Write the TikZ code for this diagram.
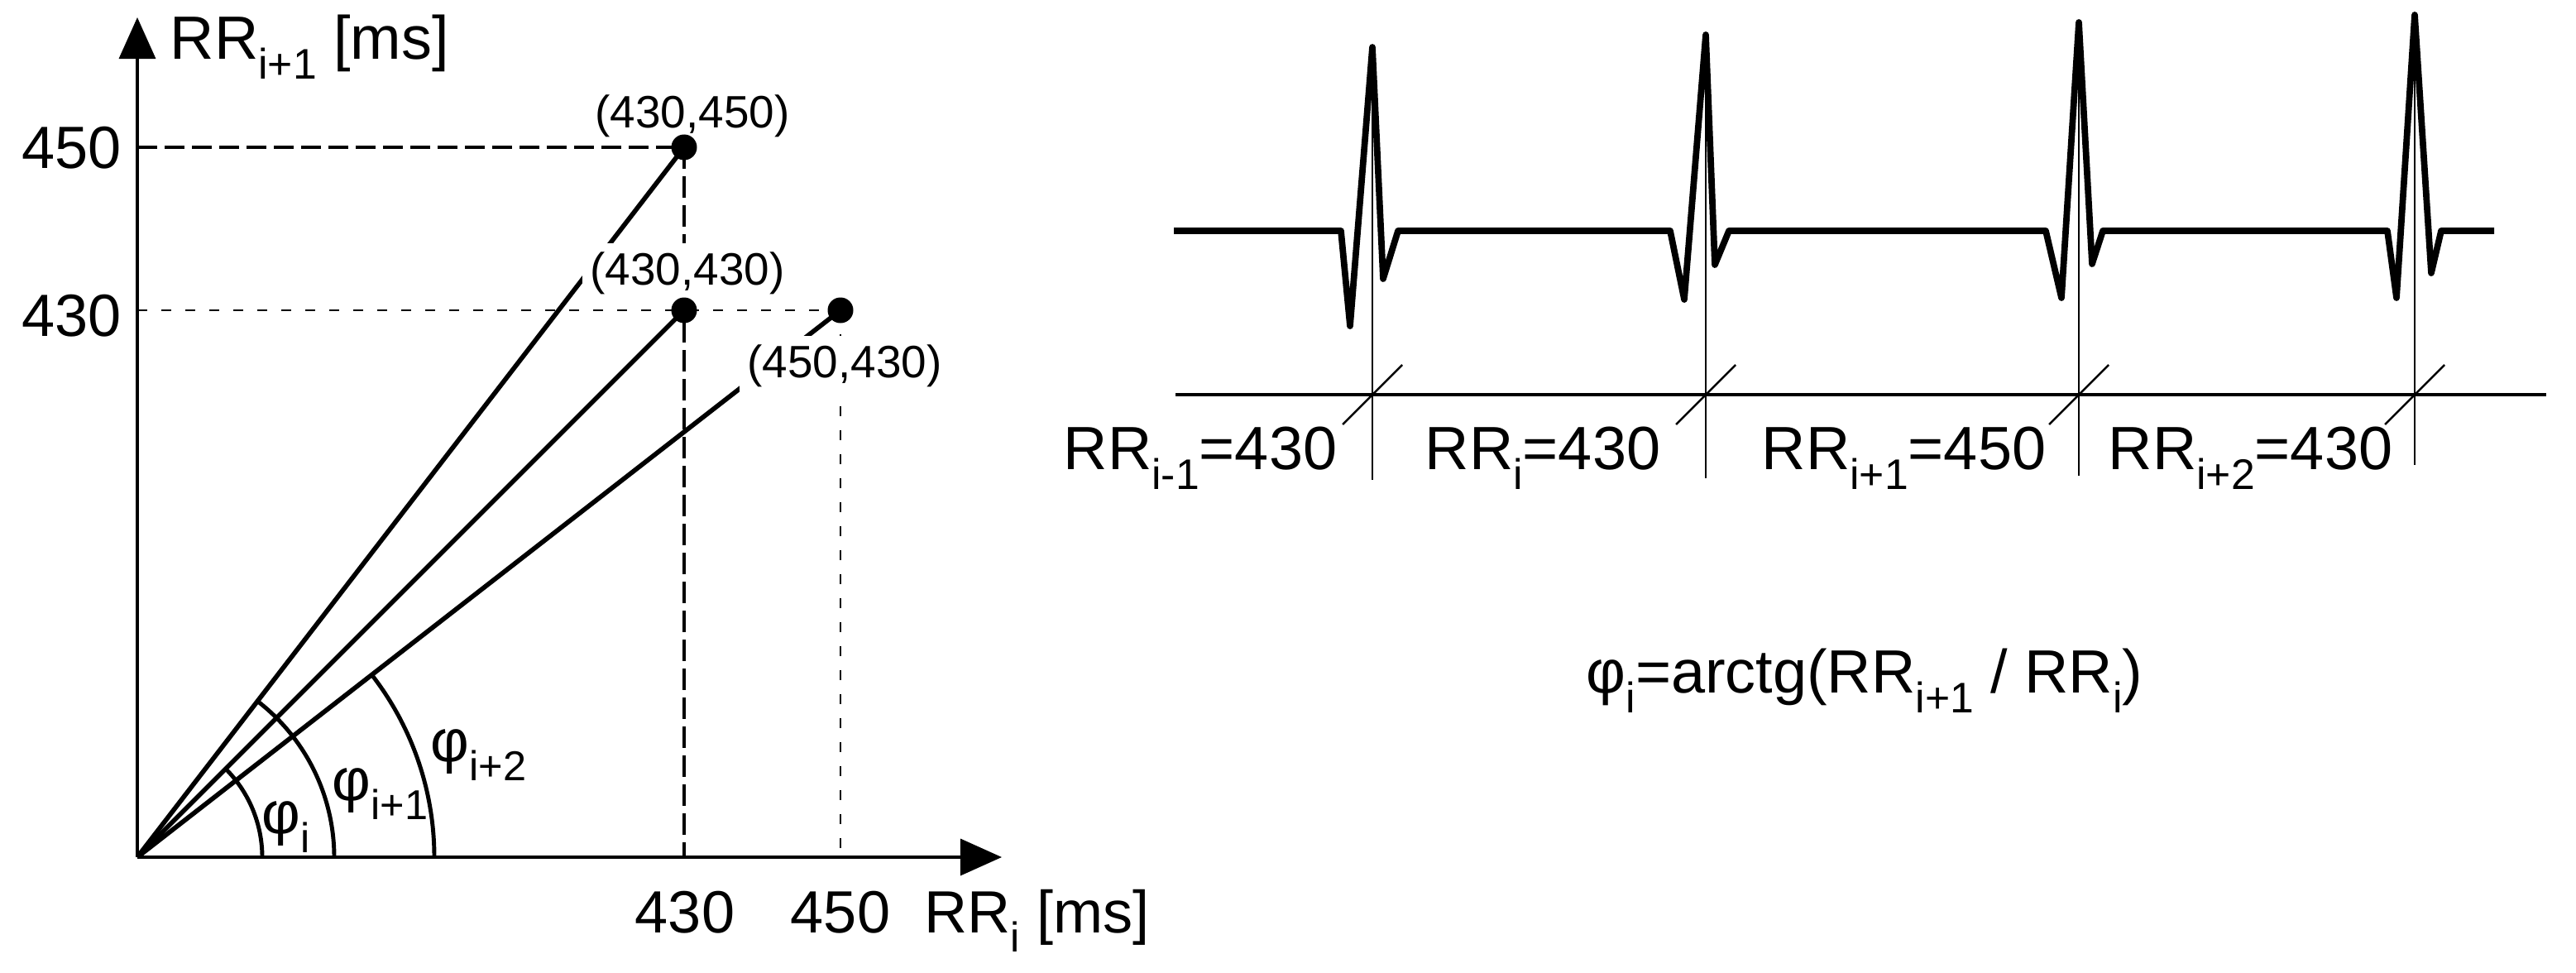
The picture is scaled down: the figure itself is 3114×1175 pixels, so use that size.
\documentclass[tikz,border=0pt]{standalone}
\usepackage{fontspec}
\setmainfont{Liberation Sans}
\usepackage{graphicx}
\usetikzlibrary{arrows.meta}
\newcommand{\sbx}[1]{\raisebox{-0.33em}{\scalebox{0.7}{#1}}}
\begin{document}
\begin{tikzpicture}[x=0.01cm,y=-0.01cm,
  big/.style={font=\fontsize{20.5}{24}\selectfont, inner sep=0},
  bigr/.style={font=\fontsize{21}{25}\selectfont, inner sep=0},
  coordlab/.style={font=\fontsize{15.6}{18}\selectfont, inner sep=0.1cm},
  ray/.style={line width=1.6pt},
  ang/.style={line width=1.4pt},
  axisline/.style={line width=1pt, -{Triangle[length=0.5cm,width=0.44cm]}},
  dashline/.style={line width=1.1pt, dash pattern=on 0.24cm off 0.09cm},
  dotline/.style={line width=0.7pt, dash pattern=on 0.12cm off 0.17cm},
  ptdot/.style={circle, fill=black, inner sep=0, minimum size=0.31cm},
  ecg/.style={line width=2.2pt, line join=round},
  taxis/.style={line width=1.2pt},
  rline/.style={line width=0.6pt},
  slash/.style={line width=0.7pt}
]
\useasboundingbox (0,0) rectangle (3114,1175);

% ---------- left panel ----------
\coordinate (O) at (166,1036);
\coordinate (ytip) at (166,21);
\coordinate (xtip) at (1211,1036);
\coordinate (P1) at (827,178);
\coordinate (P2) at (827,375);
\coordinate (P3) at (1016,375);
\coordinate (Y450) at (166,178);
\coordinate (Y430) at (166,375);
\coordinate (X430) at (827,1036);
\coordinate (X450) at (1016,1036);
\coordinate (A1) at (317,1036);
\coordinate (A2) at (404,1036);
\coordinate (A3) at (525,1036);

\draw[dashline] (Y450) -- (P1);
\draw[dashline, dash pattern=on 0.26cm off 0.09cm] (P1) -- (X430);
\draw[dotline] (Y430) -- (P3);
\draw[dotline] (P3) -- (X450);

\draw[ray] (O) -- (P1);
\draw[ray] (O) -- (P2);
\draw[ray] (O) -- (P3);

\draw[ang] (A1) arc[start angle=0, end angle=45, radius=1.51cm];
\draw[ang] (A2) arc[start angle=0, end angle=52.4, radius=2.38cm];
\draw[ang] (A3) arc[start angle=0, end angle=37.85, radius=3.59cm];

\draw[axisline] (O) -- (ytip);
\draw[axisline] (O) -- (xtip);

\node[big, anchor=base east] (l450) at (147,203) {450};
\node[big, anchor=base east] (l430) at (147,406) {430};
\node[big, font=\fontsize{21}{25}\selectfont, anchor=base west] (ylab) at (205,71) {RR\sbx{i+1} [ms]};
\node[big, anchor=base] (b430) at (828,1127) {430};
\node[big, anchor=base] (b450) at (1016,1127) {450};
\node[big, anchor=base west] (xlab) at (1117,1127) {RR\sbx{i} [ms]};

\node[coordlab, anchor=base] (c1) at (837,154) {(430,450)};
\node[coordlab, fill=white, anchor=base] (c2) at (831,344) {(430,430)};
\node[coordlab, fill=white, anchor=base] (c3) at (1021,456) {(450,430)};

\node[ptdot] (d1) at (P1) {};
\node[ptdot] (d2) at (P2) {};
\node[ptdot] (d3) at (P3) {};

\node[big, anchor=base west] (phi1) at (316,1007) {φ\sbx{i}};
\node[big, anchor=base west] (phi2) at (401,967) {φ\sbx{i+1}};
\node[big, anchor=base west] (phi3) at (520,920) {φ\sbx{i+2}};

% ---------- right panel ----------
\coordinate (R1) at (1659,57);
\coordinate (R2) at (2062,42);
\coordinate (R3) at (2513,27);
\coordinate (R4) at (2919,18);
\coordinate (F1) at (1659,580);
\coordinate (F2) at (2062,578);
\coordinate (F3) at (2513,575);
\coordinate (F4) at (2919,562);

\draw[ecg] (1419,279) -- (1621,279) -- (1632,394) -- (R1) -- (1672,337) -- (1690,279)
  -- (2019,279) -- (2036,362) -- (R2) -- (2073,320) -- (2090,279)
  -- (2473,279) -- (2492,360) -- (R3) -- (2529,319) -- (2542,279)
  -- (2886,279) -- (2897,360) -- (R4) -- (2939,330) -- (2951,279) -- (3015,279);

\coordinate (T0) at (1421,477);
\coordinate (T1) at (3078,477);
\draw[taxis] (T0) -- (T1);

\draw[rline] (R1) -- (F1);
\draw[rline] (R2) -- (F2);
\draw[rline] (R3) -- (F3);
\draw[rline] (R4) -- (F4);

\foreach \xx/\nm in {1659/s1,2062/s2,2513/s3,2919/s4}{
  \coordinate (\nm a) at (\xx-36,513);
  \coordinate (\nm b) at (\xx+36,441);
  \draw[slash] (\nm a) -- (\nm b);
}

\node[bigr, anchor=base west] (rr1) at (1285,567) {RR\sbx{i-1}=430};
\node[bigr, anchor=base west] (rr2) at (1722,567) {RR\sbx{i}=430};
\node[bigr, anchor=base west] (rr3) at (2129,567) {RR\sbx{i+1}=450};
\node[bigr, anchor=base west] (rr4) at (2548,567) {RR\sbx{i+2}=430};

\node[bigr, anchor=base west] (formula) at (1917,837) {φ\sbx{i}=arctg(RR\sbx{i+1} / RR\sbx{i})};
\end{tikzpicture}
\end{document}
